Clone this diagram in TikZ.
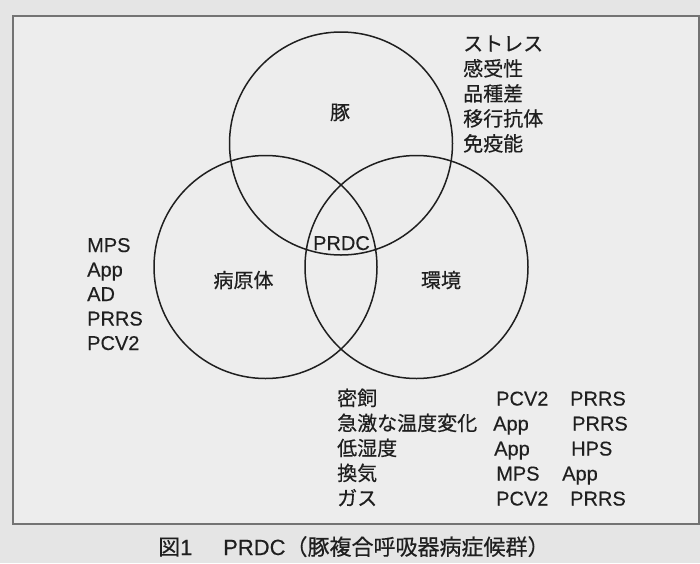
\documentclass[tikz,border=0pt]{standalone}
\usepackage{fontspec}
\setmainfont[FakeBold=0.3]{Liberation Sans}
\newfontfamily\jp[FakeBold=0.4]{Noto Sans CJK JP}
\definecolor{pagebg}{gray}{0.90}
\definecolor{boxbg}{gray}{0.93}
\definecolor{boxline}{gray}{0.45}
\definecolor{ink}{gray}{0.12}
\begin{document}
\begin{tikzpicture}[x=1pt,y=-1pt,
  ring/.style={circle, draw=ink, line width=1.5pt, minimum size=223pt, inner sep=0pt},
  jl/.style={anchor=base west, inner sep=0pt, text=ink, font=\fontsize{20}{24}\selectfont\jp},
  el/.style={anchor=base west, inner sep=0pt, text=ink, font=\fontsize{20}{24}\selectfont},
  jc/.style={anchor=base, inner sep=0pt, text=ink, font=\fontsize{20}{24}\selectfont\jp},
  ec/.style={anchor=base, inner sep=0pt, text=ink, font=\fontsize{20}{24}\selectfont},
  captext/.style={anchor=base west, inner sep=0pt, text=ink, font=\fontsize{22}{26}\selectfont}]
\useasboundingbox (0,0) rectangle (700,563);
\fill[pagebg] (0,0) rectangle (700,563);
\draw[boxline, fill=boxbg, line width=2pt] (13,16) rectangle (699,524);
% circles
\node[ring] (pig) at (341,143.5) {};
\node[ring] (path) at (265.5,267) {};
\node[ring] (env) at (416.5,267) {};
% circle labels
\node[jc] (lpig) at (340,119.6) {豚};
\node[ec] (lprdc) at (341.5,250) {PRDC};
\node[jc] (lpath) at (243.5,287.6) {病原体};
\node[jc] (lenv) at (441,287.6) {環境};
% pig factors
\node[jl] (p1) at (463,51) {ストレス};
\node[jl] (p2) at (463,76) {感受性};
\node[jl] (p3) at (463,101) {品種差};
\node[jl] (p4) at (463,126) {移行抗体};
\node[jl] (p5) at (463,151) {免疫能};
% pathogens
\node[el] (a1) at (87,252) {MPS};
\node[el] (a2) at (87,276.5) {App};
\node[el] (a3) at (87,301) {AD};
\node[el] (a4) at (87,325.5) {PRRS};
\node[el] (a5) at (87,350) {PCV2};
% environment
\node[jl] (e1) at (337,405.5) {密飼};
\node[jl] (e2) at (337,430.5) {急激な温度変化};
\node[jl] (e3) at (337,455.5) {低湿度};
\node[jl] (e4) at (337,480.5) {換気};
\node[jl] (e5) at (337,505.5) {ガス};
\node[el] (b1) at (496,405.5) {PCV2};
\node[el] (b2) at (493,430.5) {App};
\node[el] (b3) at (494,455.5) {App};
\node[el] (b4) at (496,480.5) {MPS};
\node[el] (b5) at (496,505.5) {PCV2};
\node[el] (c1) at (570,405.5) {PRRS};
\node[el] (c2) at (572,430.5) {PRRS};
\node[el] (c3) at (571,455.5) {HPS};
\node[el] (c4) at (562,480.5) {App};
\node[el] (c5) at (570,505.5) {PRRS};
% caption
\node[captext] (fig) at (158,555) {{\jp 図}1};
\node[captext] (title) at (223,555) {PRDC{\jp（豚複合呼吸器病症候群）}};
\end{tikzpicture}
\end{document}
